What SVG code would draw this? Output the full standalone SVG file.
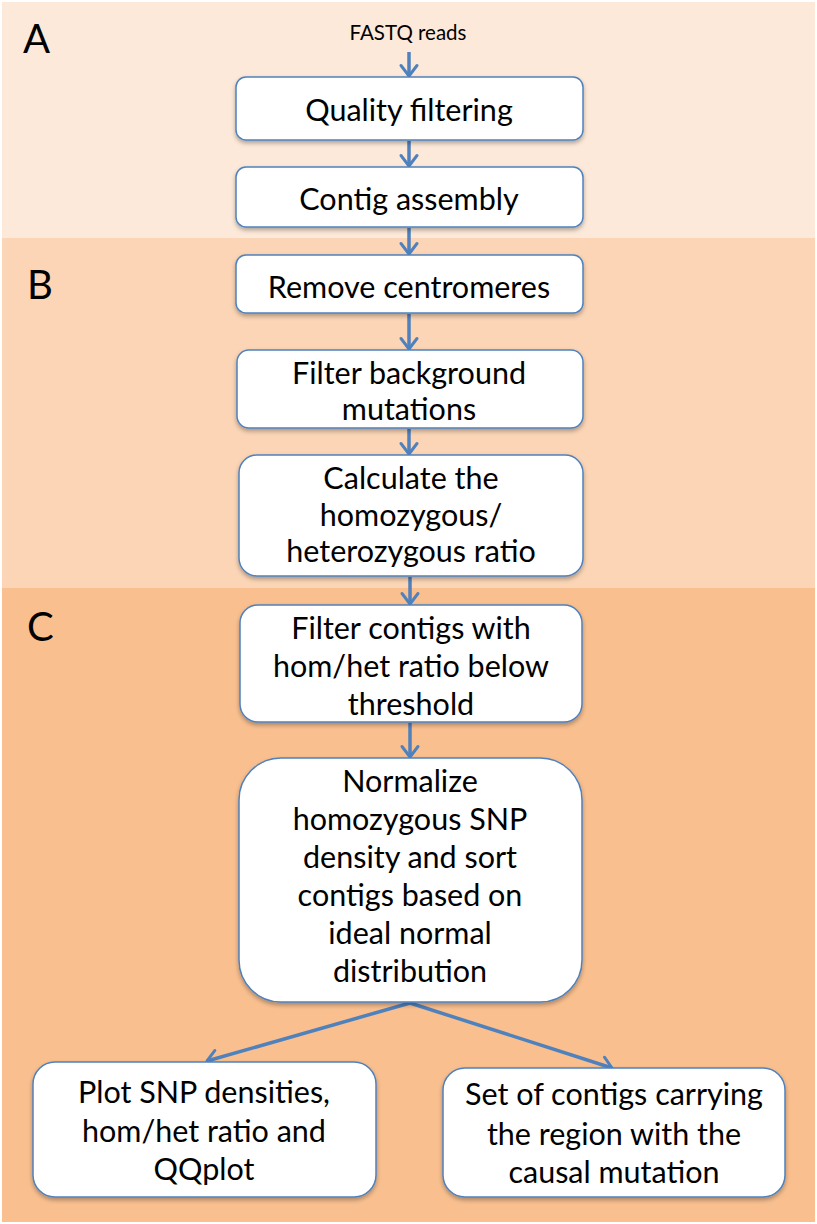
<svg xmlns="http://www.w3.org/2000/svg" width="817" height="1224" viewBox="0 0 817 1224">
<defs>
<style>
.band{stroke:none}
.box{fill:#FFFFFF;stroke:#4F81BD;stroke-width:1.5;filter:url(#sh)}
.t{font-family:Lato,"Liberation Sans",sans-serif;font-size:30.5px;fill:#000;text-anchor:middle}
.lab{font-family:Lato,"Liberation Sans",sans-serif;font-size:40px;fill:#000}
.small{font-family:Lato,"Liberation Sans",sans-serif;font-size:20.5px;fill:#000;text-anchor:middle}
.c{stroke:#4F81BD;stroke-width:3.5;fill:none;marker-end:url(#ah)}
</style>
<marker id="ah" viewBox="0 0 10 10" refX="9" refY="5" markerWidth="6" markerHeight="6" orient="auto" markerUnits="strokeWidth">
<path d="M4,1.2 L9,5 L4,8.8" fill="none" stroke="#4F81BD" stroke-width="1.4" stroke-linecap="round" stroke-linejoin="round"/>
</marker>
<filter id="sh" x="-5%" y="-5%" width="110%" height="120%">
<feDropShadow dx="0" dy="2.5" stdDeviation="2" flood-color="#000" flood-opacity="0.3"/>
</filter>
</defs>
<g id="bands">
<rect class="band" x="2" y="2" width="813" height="236" fill="#FDE9D9"/>
<rect class="band" x="2" y="238" width="813" height="350" fill="#FBD5B5"/>
<rect class="band" x="2" y="588" width="813" height="634" fill="#F9BF8F"/>
<text class="lab" x="23" y="53">A</text>
<text class="lab" x="27" y="299">B</text>
<text class="lab" x="27" y="641">C</text>
</g>
<g id="connectors">
<line class="c" x1="409" y1="52" x2="409" y2="76"/>
<line class="c" x1="409" y1="141" x2="409" y2="166"/>
<line class="c" x1="409" y1="228" x2="409" y2="254"/>
<line class="c" x1="409" y1="314" x2="409" y2="349"/>
<line class="c" x1="409" y1="429" x2="409" y2="454"/>
<line class="c" x1="410" y1="577" x2="410" y2="604"/>
<line class="c" x1="410" y1="723" x2="410" y2="757"/>
<line class="c" x1="410" y1="1003" x2="207" y2="1061"/>
<line class="c" x1="410" y1="1003" x2="612" y2="1068"/>
</g>
<g id="n0"><text class="small" x="408" y="40">FASTQ reads</text></g>
<g id="n1"><rect class="box" x="236" y="77" width="347" height="63" rx="10"/><text class="t" x="409" y="121">Quality filtering</text></g>
<g id="n2"><rect class="box" x="236" y="167" width="347" height="60" rx="10"/><text class="t" x="409" y="210">Contig assembly</text></g>
<g id="n3"><rect class="box" x="236" y="255" width="347" height="58" rx="10"/><text class="t" x="409" y="298">Remove centromeres</text></g>
<g id="n4"><rect class="box" x="237" y="350" width="346" height="78" rx="12"/><text class="t" x="409" y="384">Filter background</text><text class="t" x="409" y="420">mutations</text></g>
<g id="n5"><rect class="box" x="239" y="455" width="344" height="121" rx="18"/><text class="t" x="411" y="489">Calculate the</text><text class="t" x="411" y="526">homozygous/</text><text class="t" x="411" y="562">heterozygous ratio</text></g>
<g id="n6"><rect class="box" x="240" y="605" width="342" height="117" rx="18"/><text class="t" x="411" y="639">Filter contigs with</text><text class="t" x="411" y="677">hom/het ratio below</text><text class="t" x="411" y="715">threshold</text></g>
<g id="n7"><rect class="box" x="239" y="758" width="343" height="244" rx="42"/><text class="t" x="410" y="792">Normalize</text><text class="t" x="410" y="830">homozygous SNP</text><text class="t" x="410" y="868">density and sort</text><text class="t" x="410" y="906">contigs based on</text><text class="t" x="410" y="944">ideal normal</text><text class="t" x="410" y="982">distribution</text></g>
<g id="n8"><rect class="box" x="33" y="1062" width="343" height="135" rx="22"/><text class="t" x="204" y="1103">Plot SNP densities,</text><text class="t" x="204" y="1142">hom/het ratio and</text><text class="t" x="204" y="1180">QQplot</text></g>
<g id="n9"><rect class="box" x="443" y="1068" width="342" height="129" rx="22"/><text class="t" x="614" y="1105">Set of contigs carrying</text><text class="t" x="614" y="1145">the region with the</text><text class="t" x="614" y="1183">causal mutation</text></g>
</svg>
